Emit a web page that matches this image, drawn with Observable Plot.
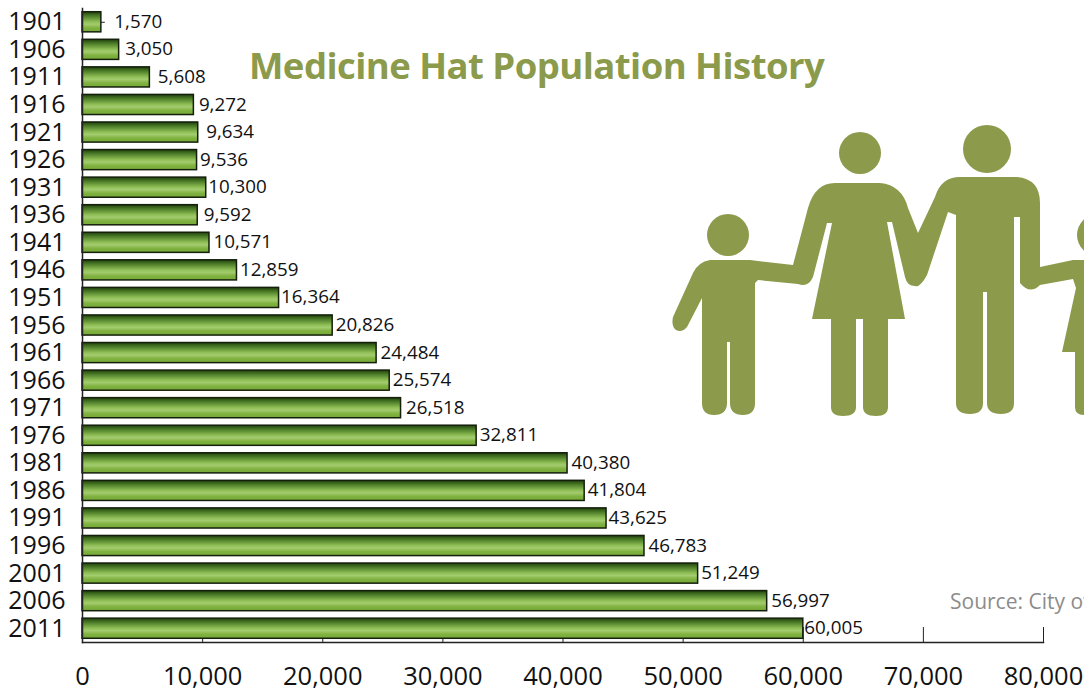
<!DOCTYPE html>
<html><head><meta charset="utf-8">
<script src="https://cdn.jsdelivr.net/npm/d3@7"></script>
<script src="https://cdn.jsdelivr.net/npm/@observablehq/plot@0.6"></script>
<style>
html,body{margin:0;padding:0;background:#fff;width:1084px;height:690px;overflow:hidden}
#wrap{position:relative;width:1084px;height:690px;overflow:hidden;font-family:"Open Sans",sans-serif}
#title{position:absolute;left:249px;top:40px;font-size:36.5px;font-weight:700;color:#8b9a4b;white-space:nowrap;line-height:50px;letter-spacing:-0.55px}
#source{position:absolute;left:950px;top:587px;font-size:21px;color:#8c8c8c;white-space:nowrap;line-height:28px}
#icon{position:absolute;left:0;top:0}
</style></head><body>
<div id="wrap"><div id="chart"></div>
<div id="title">Medicine Hat Population History</div>
<div id="source">Source: City of Medicine Hat</div>
<svg id="icon" width="1084" height="690" fill="#8b9a4b">
 <circle cx="728" cy="235" r="21"/><circle cx="860" cy="153" r="21"/><circle cx="987" cy="149" r="24"/><circle cx="1098" cy="235" r="21"/>
 <path d="M710 260H750L793 265L808 208Q815 183 835 183H880Q902 185 908 208L918 233L935 197Q941 177 960 177H1017Q1040 179 1040 203V267L1073 260H1090V415H1084Q1075 415 1075 407V352H1062L1076 288L1073 279L1040 285Q1030 295 1020 283V217H1014V403Q1014 414 1001 414Q987 414 987 403V292H983V403Q983 414 970 414Q956 414 956 403V215L948 212L927 275Q920 288 915 286Q907 286 905 277L892 222H887L905 319H888V407Q888 416 876 416Q863 416 863 407V319H856V407Q856 416 843 416Q831 416 831 407V319H812L832 223H827L813 277Q808 288 798 284L758 280L755 283V403Q755 415 743 415Q730 415 730 403V342H727V403Q727 415 714 415Q702 415 702 403V298L687 327Q682 333 676 330Q671 326 673 317L693 273Q698 262 710 260Z"/>
</svg></div>
<script>
const years = ["1901","1906","1911","1916","1921","1926","1931","1936","1941","1946","1951","1956","1961","1966","1971","1976","1981","1986","1991","1996","2001","2006","2011"];
const population = [1570,3050,5608,9272,9634,9536,10300,9592,10571,12859,16364,20826,24484,25574,26518,32811,40380,41804,43625,46783,51249,56997,60005];
const xTicks = [0,10000,20000,30000,40000,50000,60000,70000,80000];
const rows = years.map((year,i)=>({year,population:population[i]}));
// label gaps follow the hand-placed labels of the original
const labelGap = [13,6,8,5,8,3,2,6,4,3,2,3,4,3,5,3,4,3,2,4,3,4,1];
const gradient = () => {
  const s = d3.create("svg:defs");
  const g = s.append("linearGradient").attr("id","barGrad").attr("x1",0).attr("x2",0).attr("y1",0).attr("y2",1);
  [[0,"#1f3f0c"],[0.2,"#4a7a26"],[0.5,"#8fbf55"],[0.62,"#a4cc70"],[0.8,"#80b240"],[1,"#76a838"]].forEach(([o,c])=>g.append("stop").attr("offset",o).attr("stop-color",c));
  return s.node();
};
const chart = Plot.plot({
  width:1084,height:690,marginLeft:82,marginRight:41,marginTop:8,marginBottom:48,
  style:{fontFamily:"'Open Sans',sans-serif",background:"transparent",color:"#111"},
  x:{domain:[0,80000],label:null},
  y:{domain:years,paddingInner:0.27,paddingOuter:0.135,round:false,label:null},
  marks:[
    gradient,
    Plot.axisX({ticks:xTicks,tickSize:-15,tickPadding:39,tickFormat:d3.format(","),fontSize:25.5,stroke:"#222",label:null,anchor:"bottom"}),
    Plot.axisY({tickSize:0,tickPadding:17,fontSize:25,label:null,anchor:"left"}),
    Plot.barX(rows,{x:"population",y:"year",fill:"url(#barGrad)",stroke:"#14200c",strokeWidth:1.5}),
    Plot.ruleY([rows[0]],{y:"year",x1:"population",x2:d=>d.population+330,stroke:"#222"}),
    ...rows.map((d,i)=>Plot.text([d],{x:"population",y:"year",text:r=>d3.format(",")(r.population),textAnchor:"start",dx:labelGap[i],dy:-0.5,fontSize:18.8,fill:"#111"})),
    Plot.frame({anchor:"bottom",stroke:"#222",strokeWidth:1.5}),
    Plot.frame({anchor:"left",stroke:"#222",strokeWidth:1.5})
  ]
});
document.getElementById("chart").appendChild(chart);
</script></body></html>
